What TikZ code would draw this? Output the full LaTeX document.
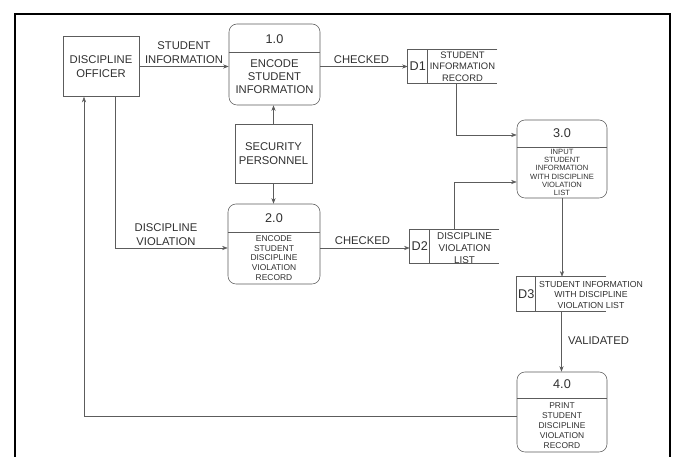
\documentclass[tikz,border=0pt]{standalone}
\usepackage{fontspec}
\setmainfont{Liberation Sans}
\usetikzlibrary{arrows.meta}
\definecolor{linegray}{HTML}{5C5C5C}
\definecolor{textgray}{HTML}{303030}

\tikzset{
  entity/.style={draw=linegray, rectangle, inner sep=0pt, minimum width=1.9cm, minimum height=1.5cm, align=center, text=textgray, font=\fontsize{8}{9.5}\selectfont},
  proc/.style={draw=linegray, rounded corners=0.2cm, inner sep=0pt, minimum width=2.275cm, minimum height=2cm},
  store/.style={inner sep=0pt, minimum width=2.225cm, minimum height=0.825cm},
  num/.style={text=textgray, font=\fontsize{9}{10}\selectfont},
  lbl/.style={align=center, text=textgray, font=\fontsize{8}{10}\selectfont},
  bigtxt/.style={align=center, text=textgray, font=\fontsize{8}{9.2}\selectfont},
  smalltxt/.style={align=center, text=textgray, font=\fontsize{6}{7}\selectfont},
  tinytxt/.style={align=center, text=textgray, font=\fontsize{5.4}{5.9}\selectfont},
  storetxt/.style={align=center, text=textgray, font=\fontsize{6.7}{8.3}\selectfont},
  rule/.style={draw=linegray},
  flow/.style={draw=linegray, -{Stealth[length=4pt,width=3pt]}}
}

\begin{document}
\begin{tikzpicture}[x=0.025cm, y=-0.025cm]
  \useasboundingbox (0,0) rectangle (673,457);
  % outer frame
  \draw[line width=1.4pt] (15,457) -- (15,14) -- (670,14) -- (670,457);

  % external entities
  \node[entity] (off) at (101,66.5) {DISCIPLINE\\OFFICER};
  \node[entity, minimum width=1.925cm, minimum height=1.475cm] (sec) at (273.5,153.5) {SECURITY\\PERSONNEL};

  % processes
  \node[proc, minimum height=2.025cm] (p1) at (274.5,64.5) {};
  \draw[rule] (p1.west |- 0,52) -- (p1.east |- 0,52);
  \node[num] (p1n) at (p1.center |- 0,39) {1.0};
  \node[bigtxt] (p1t) at (p1.center |- 0,76.5) {ENCODE\\STUDENT\\INFORMATION};

  \node[proc, minimum width=2.3cm] (p2) at (274,244) {};
  \draw[rule] (p2.west |- 0,232) -- (p2.east |- 0,232);
  \node[num] (p2n) at (p2.center |- 0,218) {2.0};
  \node[smalltxt] (p2t) at (p2.center |- 0,258) {ENCODE\\STUDENT\\DISCIPLINE\\VIOLATION\\RECORD};

  \node[proc, minimum width=2.25cm, minimum height=1.95cm] (p3) at (562,159) {};
  \draw[rule] (p3.west |- 0,147) -- (p3.east |- 0,147);
  \node[num] (p3n) at (p3.center |- 0,133) {3.0};
  \node[tinytxt] (p3t) at (p3.center |- 0,172.5) {INPUT\\STUDENT\\INFORMATION\\WITH DISCIPLINE\\VIOLATION\\LIST};

  \node[proc, minimum width=2.25cm] (p4) at (562,412) {};
  \draw[rule] (p4.west |- 0,398) -- (p4.east |- 0,398);
  \node[num] (p4n) at (p4.center |- 0,384) {4.0};
  \node[smalltxt] (p4t) at (p4.center |- 0,425.5) {PRINT\\STUDENT\\DISCIPLINE\\VIOLATION\\RECORD};

  % data stores
  \node[store] (d1) at (452.5,66.5) {};
  \draw[rule] (d1.north east) -- (d1.north west) -- (d1.south west) -- (d1.south east);
  \draw[rule] ([xshift=0.5cm]d1.north west) -- ([xshift=0.5cm]d1.south west);
  \node[num] (d1n) at ([xshift=0.25cm]d1.west) {D1};
  \node[storetxt] (d1t) at (462.5,66.5) {STUDENT\\INFORMATION\\RECORD};

  \node[store] (d2) at (454.5,246.5) {};
  \draw[rule] (d2.north east) -- (d2.north west) -- (d2.south west) -- (d2.south east);
  \draw[rule] ([xshift=0.5cm]d2.north west) -- ([xshift=0.5cm]d2.south west);
  \node[num] (d2n) at ([xshift=0.25cm]d2.west) {D2};
  \node[storetxt, font=\fontsize{7}{8.3}\selectfont] (d2t) at (464.5,248) {DISCIPLINE\\VIOLATION\\LIST};

  \node[store, minimum height=0.85cm] (d3) at (561.5,294) {};
  \draw[rule] (d3.north east) -- (d3.north west) -- (d3.south west) -- (d3.south east);
  \draw[rule] ([xshift=0.475cm]d3.north west) -- ([xshift=0.475cm]d3.south west);
  \node[num] (d3n) at ([xshift=0.2375cm]d3.west) {D3};
  \node[storetxt, font=\fontsize{6.2}{7.2}\selectfont] (d3t) at (591,295) {STUDENT INFORMATION\\WITH DISCIPLINE\\VIOLATION LIST};

  % data flows
  \draw[flow] (off.east) -- (off.east -| p1.west);
  \node[lbl] (l1) at (184,53) {STUDENT\\INFORMATION};
  \draw[flow] (d1.west -| p1.east) -- (d1.west);
  \node[lbl] (l2) at (361.5,60) {CHECKED};
  \draw[flow] (sec.north) -- (sec.north |- p1.south);
  \draw[flow] (sec.south) -- (sec.south |- p2.north);
  \draw[flow] ([xshift=0.35cm]off.south) |- (p2.west |- 0,248);
  \node[lbl] (l3) at (166,234.5) {DISCIPLINE\\VIOLATION};
  \draw[flow] (p2.east |- 0,248) -- (d2.west |- 0,248);
  \node[lbl] (l4) at (362.5,241) {CHECKED};
  \draw[flow] ([xshift=0.09cm]d1.south) |- (p3.west |- 0,135);
  \draw[flow] (d2.north) |- (p3.west |- 0,182);
  \draw[flow] (p3.south) -- (p3.south |- d3.north);
  \draw[flow] (d3.south) -- (d3.south |- p4.north);
  \node[lbl] (l5) at (598.5,341) {VALIDATED};
  \draw[flow] (p4.west |- 0,416) -| ([xshift=-0.425cm]off.south);
\end{tikzpicture}
\end{document}
